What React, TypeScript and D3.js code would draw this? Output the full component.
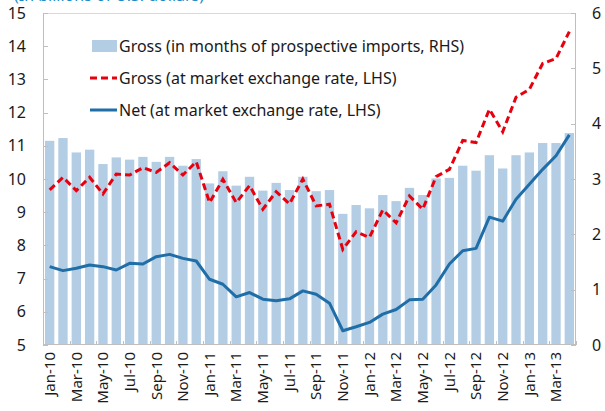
import React from "react";
import * as d3 from "d3";

const months = [
  "Jan-10","Feb-10","Mar-10","Apr-10","May-10","Jun-10","Jul-10","Aug-10","Sep-10","Oct-10","Nov-10","Dec-10",
  "Jan-11","Feb-11","Mar-11","Apr-11","May-11","Jun-11","Jul-11","Aug-11","Sep-11","Oct-11","Nov-11","Dec-11",
  "Jan-12","Feb-12","Mar-12","Apr-12","May-12","Jun-12","Jul-12","Aug-12","Sep-12","Oct-12","Nov-12","Dec-12",
  "Jan-13","Feb-13","Mar-13","Apr-13",
];

// Gross reserves in months of prospective imports (RHS)
const grossMonths = [
  3.69,3.74,3.48,3.53,3.27,3.39,3.35,3.40,3.31,3.40,3.24,3.36,
  2.92,3.14,2.88,3.04,2.79,2.93,2.80,3.04,2.78,2.80,2.37,2.53,
  2.47,2.71,2.60,2.84,2.71,3.01,3.02,3.24,3.15,3.43,3.19,3.43,
  3.48,3.65,3.65,3.83,
];

// Gross at market exchange rate (LHS, billions USD)
const grossUSD = [
  9.67,10.05,9.65,10.05,9.55,10.15,10.12,10.34,10.20,10.49,10.12,10.52,
  9.29,9.99,9.29,9.80,9.09,9.62,9.25,10.00,9.19,9.24,7.88,8.41,
  8.24,9.07,8.68,9.49,9.09,10.07,10.29,11.16,11.10,12.10,11.42,12.46,
  12.70,13.48,13.63,14.44,
];

// Net at market exchange rate (LHS, billions USD)
const netUSD = [
  7.36,7.24,7.31,7.41,7.36,7.26,7.46,7.44,7.66,7.73,7.61,7.53,
  6.98,6.83,6.45,6.58,6.38,6.33,6.39,6.63,6.53,6.26,5.43,5.55,
  5.68,5.93,6.07,6.36,6.38,6.81,7.44,7.84,7.91,8.85,8.73,9.39,
  9.84,10.29,10.70,11.33,
];

const leftTicks = [5, 6, 7, 8, 9, 10, 11, 12, 13, 14, 15];
const rightTicks = [0, 1, 2, 3, 4, 5, 6];

const legendLabels = [
  "Gross (in months of prospective imports, RHS)",
  "Gross (at market exchange rate, LHS)",
  "Net (at market exchange rate, LHS)",
];

const title = "(In billions of U.S. dollars)";

const W = 605, H = 411;
const M = { left: 43, right: 576, top: 13, bottom: 345 };
const FONT = "'Noto Sans', 'Open Sans', sans-serif";
const BAR = "#b3cde4";
const RED = "#e8000e";
const BLUE = "#1f6ea8";
const AXIS = "#bfbfbf";
const TEXT = "#1a1a1a";

export default function App() {
  const x = d3.scaleBand<string>().domain(months).range([M.left, M.right]).paddingInner(0.3).paddingOuter(0.15);
  const yL = d3.scaleLinear().domain([5, 15]).range([M.bottom, M.top]);
  const yR = d3.scaleLinear().domain([0, 6]).range([M.bottom, M.top]);
  const cx = (i: number) => (x(months[i]) as number) + x.bandwidth() / 2;

  const line = (vals: number[]) =>
    d3.line<number>().x((_, i) => cx(i)).y((v) => yL(v))(vals) as string;

  const step = x.step();
  const xTickIdx = d3.range(0, months.length + 1, 2);

  return (
    <svg width={W} height={H} style={{ position: "absolute", left: 0, top: 0 }} fontFamily={FONT}>
      <rect width={W} height={H} fill="#fff" />
      <text x={14} y={0.5} fontSize={16} fill="#1d8cc6">{title}</text>

      {/* bars */}
      {grossMonths.map((v, i) => (
        <rect key={i} x={x(months[i])} y={yR(v)} width={x.bandwidth()} height={yR(0) - yR(v)} fill={BAR} />
      ))}

      {/* frame */}
      <line x1={M.left} x2={M.right} y1={M.top + 0.5} y2={M.top + 0.5} stroke="#d9d9d9" />
      <line x1={M.left + 0.5} x2={M.left + 0.5} y1={M.top} y2={M.bottom} stroke={AXIS} />
      <line x1={M.right - 0.5} x2={M.right - 0.5} y1={M.top} y2={M.bottom} stroke={AXIS} />
      <line x1={M.left} x2={M.right} y1={M.bottom - 0.5} y2={M.bottom - 0.5} stroke={AXIS} />

      {/* left ticks */}
      {leftTicks.map((t) => (
        <g key={t}>
          <line x1={M.left} x2={M.left + 5} y1={Math.round(yL(t)) + 0.5} y2={Math.round(yL(t)) + 0.5} stroke={AXIS} />
          <text x={26} y={yL(t)} dy="0.35em" textAnchor="end" fontSize={16} fill={TEXT}>{t}</text>
        </g>
      ))}
      {/* right ticks */}
      {rightTicks.map((t) => (
        <g key={t}>
          <line x1={M.right - 5} x2={M.right} y1={Math.round(yR(t)) + 0.5} y2={Math.round(yR(t)) + 0.5} stroke={AXIS} />
          <text x={592} y={yR(t)} dy="0.35em" textAnchor="start" fontSize={16} fill={TEXT}>{t}</text>
        </g>
      ))}
      {/* x ticks */}
      {xTickIdx.map((i) => {
        const xx = Math.round(M.left + i * step) + 0.5;
        return <line key={i} x1={xx} x2={xx} y1={M.bottom} y2={M.bottom - 4} stroke={AXIS} />;
      })}

      {/* lines */}
      <path d={line(grossUSD)} fill="none" stroke={RED} strokeWidth={3} strokeDasharray="7,4" />
      <path d={line(netUSD)} fill="none" stroke={BLUE} strokeWidth={3} strokeLinejoin="round" />

      {/* x labels */}
      {months.map((m, i) =>
        i % 2 === 0 ? (
          <text key={m} transform={`translate(${cx(i)},352) rotate(-90)`} dy="0.35em" textAnchor="end" fontSize={15} fill={TEXT}>
            {m}
          </text>
        ) : null
      )}

      {/* legend */}
      <rect x={92} y={40} width={25} height={12} fill={BAR} />
      <text x={119} y={46} dy="0.35em" fontSize={16} fill={TEXT}>{legendLabels[0]}</text>
      <line x1={90} x2={117} y1={78} y2={78} stroke={RED} strokeWidth={3} strokeDasharray="7,4" />
      <text x={119} y={78} dy="0.35em" fontSize={16} fill={TEXT}>{legendLabels[1]}</text>
      <line x1={90} x2={117} y1={110} y2={110} stroke={BLUE} strokeWidth={3} />
      <text x={119} y={110} dy="0.35em" fontSize={16} fill={TEXT}>{legendLabels[2]}</text>
    </svg>
  );
}
